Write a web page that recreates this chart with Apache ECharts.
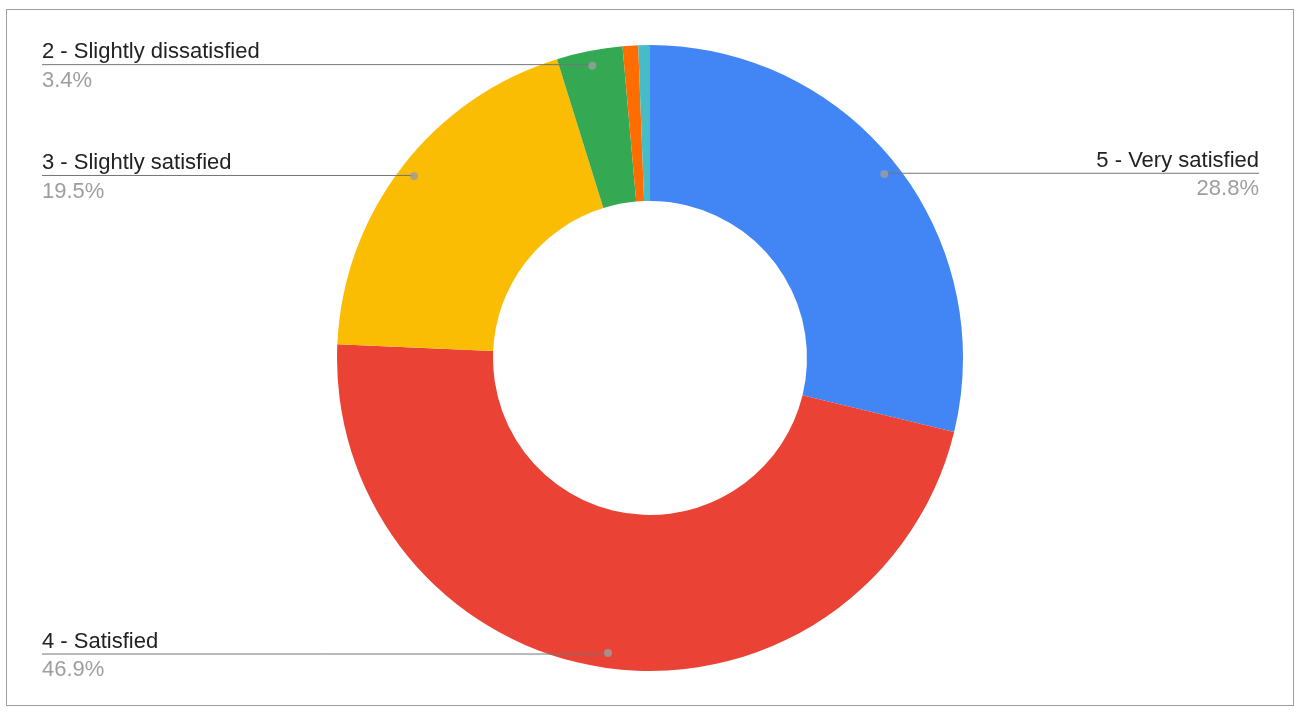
<!DOCTYPE html>
<html>
<head>
<meta charset="utf-8">
<script src="https://cdn.jsdelivr.net/npm/echarts@6/dist/echarts.min.js"></script>
<style>
html,body{margin:0;padding:0;background:#fff;}
#chart{position:absolute;left:0;top:0;width:1301px;height:719px;}
#frame{position:absolute;left:6px;top:9px;width:1286px;height:695px;border:1px solid #9e9e9e;pointer-events:none;}
</style>
</head>
<body>
<div id="chart"></div>
<div id="frame"></div>
<script>
const categories = ['5 - Very satisfied', '4 - Satisfied', '3 - Slightly satisfied', '2 - Slightly dissatisfied', '1 - Dissatisfied', '1 - Very dissatisfied'];
const values = [28.8, 46.9, 19.5, 3.4, 0.8, 0.6];
const colors = ['#4285F4', '#EA4335', '#FBBC04', '#34A853', '#FF6D01', '#46BDC6'];
const labeled = [true, true, true, true, false, false];

const total = values.reduce((a, b) => a + b, 0);
const dotData = [];
let cum = 0;
values.forEach((v, i) => {
  if (labeled[i]) dotData.push([298, (cum + v / 2) / total * 100]);
  cum += v;
});

const FONT = "'Liberation Sans', Arial, sans-serif";
const chart = echarts.init(document.getElementById('chart'));
const CX = 650, CY = 358;
chart.setOption({
  animation: false,
  color: colors,
  polar: { center: [CX, CY], radius: 313 },
  angleAxis: { type: 'value', min: 0, max: 100, startAngle: 90, clockwise: true, show: false },
  radiusAxis: { type: 'value', min: 0, max: 313, show: false },
  series: [
    {
      type: 'pie',
      center: [CX, CY],
      radius: [157, 313],
      startAngle: 90,
      clockwise: true,
      silent: true,
      label: { show: false },
      labelLine: { show: false },
      itemStyle: { borderWidth: 0 },
      data: categories.map((c, i) => ({ name: c, value: values[i], itemStyle: { color: colors[i] } }))
    },
    {
      type: 'pie',
      center: [CX, CY],
      radius: [0, 298],
      startAngle: 90,
      clockwise: true,
      silent: true,
      z: 3,
      avoidLabelOverlap: true,
      itemStyle: { color: 'rgba(0,0,0,0)' },
      label: {
        show: true,
        position: 'outside',
        alignTo: 'edge',
        edgeDistance: 42,
        formatter: p => '{n|' + p.name + '}\n{p|' + p.percent.toFixed(1) + '%}',
        rich: {
          n: { fontFamily: FONT, fontSize: 22, color: '#222222', lineHeight: 32 },
          p: { fontFamily: FONT, fontSize: 22, color: '#9e9e9e', lineHeight: 25 }
        }
      },
      labelLine: { show: true, length: 1, length2: 10, lineStyle: { color: '#757575', width: 1 } },
      labelLayout: function (params) {
        const pts = params.labelLinePoints;
        if (!pts) return {};
        const r = params.labelRect;
        const newPts = pts.map(p => p.slice());
        const last = newPts[newPts.length - 1];
        if (r.x + r.width / 2 < CX) last[0] = r.x; else last[0] = r.x + r.width;
        return { labelLinePoints: newPts };
      },
      data: categories.map((c, i) => ({
        name: c, value: values[i],
        label: { show: labeled[i] },
        labelLine: { show: labeled[i] }
      }))
    },
    {
      type: 'scatter',
      coordinateSystem: 'polar',
      symbolSize: 8,
      silent: true,
      z: 4,
      itemStyle: { color: '#9e9e9e' },
      data: dotData
    }
  ]
});
</script>
</body>
</html>
